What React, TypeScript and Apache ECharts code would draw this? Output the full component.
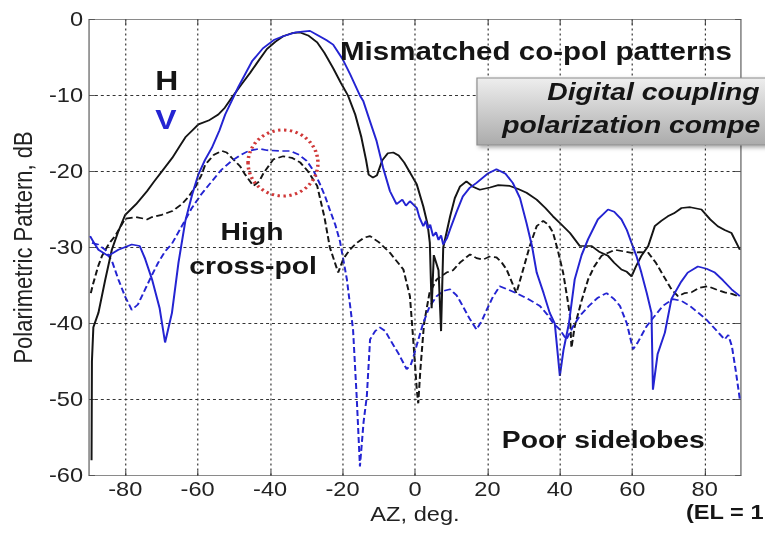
import React, { useEffect, useRef } from "react";
import * as echarts from "echarts";

// Azimuth tick labels (deg) and dB range
const azTicks = [-80, -60, -40, -20, 0, 20, 40, 60, 80];

// H co-pol (black solid) [AZ deg, dB]
const hCoPol: [number, number][] = [
  [-89.3, -58], [-89.2, -45], [-88.8, -40.5], [-87.4, -38.6], [-85.5, -34.2], [-83.7, -30.3],
  [-82, -28], [-80, -25.7], [-77, -24.3], [-74, -22.6], [-72, -21.3], [-69.9, -20], [-67, -18.2],
  [-65, -16.7], [-63.4, -15.5], [-61.5, -14.6], [-59.8, -13.8], [-57, -13.3], [-54.3, -12.5],
  [-52.5, -11.6], [-50.6, -10.3], [-48, -8.6], [-45.5, -7], [-43, -5.3], [-40.9, -3.9],
  [-38.5, -2.9], [-36.4, -2.2], [-34, -1.8], [-31.7, -1.7], [-29.5, -2.1], [-27, -3],
  [-25, -4.4], [-22.6, -6.4], [-20.5, -8.3], [-18.5, -10], [-16.5, -12.5], [-14.8, -15.5],
  [-13.5, -18.5], [-12.8, -20.4], [-11.6, -20.8], [-10.5, -20.5], [-9, -18.5], [-7.5, -17.6],
  [-6, -17.5], [-4.5, -17.9], [-3, -18.8], [-1.4, -20.1], [0.5, -21.7], [2.3, -24.6],
  [3.5, -27], [4.1, -29.4], [4.6, -38], [5.2, -31], [6.5, -33], [7.2, -41], [7.8, -30],
  [9.7, -25.9], [11, -23.5], [12.4, -22], [14.2, -21.3], [16, -22], [17.9, -22.4], [20.7, -22.1],
  [23, -21.8], [26.2, -21.9], [28.5, -22.3], [30.8, -22.8], [33.6, -23.7], [36, -24.8],
  [38.1, -25.9], [40.5, -27], [42.8, -28.1], [45.5, -29.8], [48.7, -29.8], [51, -30.6],
  [53.3, -31.1], [55, -32], [57, -32.9], [58.5, -33.2], [59.8, -33.8], [61, -32.5], [62.5, -31.1],
  [64.4, -29.8], [66.2, -27.2], [68, -26.5], [69.8, -25.9], [71.5, -25.5], [73.6, -24.8],
  [76, -24.7], [79.1, -25], [81.5, -26.3], [83.6, -27.2], [85.5, -27.7], [87.4, -28.1], [89.7, -30.3],
];

// V co-pol (blue solid)
const vCoPol: [number, number][] = [
  [-89.7, -28.5], [-88.5, -29.5], [-87.4, -30.3], [-84.7, -31.1], [-81.9, -30.3], [-78.2, -29.6],
  [-76, -29.8], [-74.5, -31.5], [-72.6, -34.2], [-70.5, -38], [-69, -42.5], [-67.1, -38.6],
  [-65.3, -32], [-63.4, -26.5], [-61.5, -23], [-59.8, -20.4], [-58, -18.5], [-56.1, -16.9],
  [-54, -14.6], [-52.4, -12.5], [-48.8, -8.9], [-45, -5.5], [-42, -3.8], [-39, -2.7],
  [-36.4, -2.2], [-33, -1.7], [-29, -1.5], [-27.1, -2], [-24.5, -2.7], [-22.6, -3.3],
  [-20, -5.2], [-17.9, -7.2], [-15.2, -10], [-14.3, -10.7], [-12.5, -13.3], [-10.6, -16],
  [-8.8, -19.5], [-6.9, -22.6], [-5.1, -24.3], [-3.5, -23.7], [-2.5, -24.5], [-1.4, -23.9],
  [0.5, -24.8], [1.2, -26], [2.3, -27.2], [3, -26.5], [3.5, -27.5], [4.2, -27], [5, -28.5],
  [5.8, -28], [6.5, -29], [7.2, -28.4], [7.8, -29.6], [8.8, -28.8], [9.7, -27.6],
  [11.5, -25.3], [13.2, -23.3], [15, -22.2], [17, -21.5], [20, -20.3], [22.5, -19.7],
  [25, -20.3], [27, -21.5], [29, -23.5], [30.8, -26.8], [32.3, -29.8], [33.6, -33.3],
  [35.5, -36], [37.2, -38.6], [38.6, -40], [40, -46.9], [41, -43.5], [42.5, -40], [44.1, -34.2],
  [46, -31], [47.8, -28.9], [50.5, -26.3], [53.3, -25], [55, -25.3], [57, -26.3], [58.5, -27.7],
  [59.8, -29.4], [61.2, -31.2], [62.5, -33.3], [64, -36], [65.3, -38.6], [65.7, -48.7],
  [67, -44], [69, -41.2], [70.8, -36.8], [71.7, -36], [73.5, -34.5], [75.3, -33.3],
  [78.1, -32.5], [80.5, -32.8], [82.8, -33.3], [85, -34.3], [87.4, -35.5], [89.7, -36.4],
];

// H cross-pol (black dashed)
const hCrossPol: [number, number][] = [
  [-89.5, -36], [-89, -35], [-87.5, -32.5], [-86.4, -31.1], [-84.5, -29.5], [-82.8, -28.5],
  [-80, -26.2], [-77, -26], [-74, -26.3], [-72.6, -26], [-69.9, -25.7], [-67, -25.2],
  [-64.4, -24.3], [-62.5, -23.3], [-60.7, -22.1], [-59, -20.5], [-57.9, -19.1], [-55.5, -17.8],
  [-53.3, -17.3], [-52, -17.5], [-50.6, -18.2], [-48.3, -19.3], [-46.9, -20.4], [-44.6, -21.9],
  [-43, -21.3], [-41.8, -20.2], [-39.1, -18.4], [-36.4, -18], [-34, -18.2], [-31.7, -18.8],
  [-29.5, -20], [-27, -21.9], [-25, -26], [-23.5, -30], [-21.2, -33.3], [-19.8, -31.5],
  [-18, -30.3], [-16.1, -29.4], [-14, -28.7], [-12.4, -28.5], [-10, -29.3], [-6.9, -30.7],
  [-3.2, -32.9], [-1.4, -36.4], [-0.5, -42], [0.5, -48.7], [0.9, -50.5], [1.5, -46],
  [2.5, -40], [4, -36], [6, -34.2], [8.7, -33.3], [10.5, -33], [12.4, -32], [15.2, -30.9],
  [17, -31.4], [18.8, -31.6], [20.5, -31.2], [22.5, -31.3], [24, -32], [25.3, -32.9],
  [26.7, -34.5], [28, -36], [29.5, -33.5], [31.7, -29.8], [33.6, -27.2], [35.4, -26.5],
  [36.8, -27], [38.1, -28], [39.5, -30.5], [40.9, -33.3], [42, -36.5], [42.8, -39], [43.2, -43.2],
  [44.1, -40.4], [46, -37], [47.8, -34.2], [49.5, -32.5], [51.5, -31.1], [55.2, -30.3],
  [57.5, -30.5], [59.8, -30.7], [62, -30.6], [64.4, -30.7], [66.5, -32], [68.1, -33.3],
  [70.8, -35.5], [72.6, -36.4], [74.5, -36], [76.3, -35.9], [78.5, -35.3], [80.8, -35.1],
  [83, -35.5], [85.5, -35.9], [87.5, -36.1], [89.1, -36.4],
];

// V cross-pol (blue dashed)
const vCrossPol: [number, number][] = [
  [-89.2, -29.4], [-87.5, -29.6], [-85.5, -30.3], [-83.5, -32], [-81.9, -34.2], [-80, -36.5],
  [-78.2, -38.2], [-76.5, -37.5], [-74.5, -35.5], [-72.5, -33.5], [-70.9, -32], [-69, -30.5],
  [-67.1, -29.5], [-64.5, -27.3], [-61.6, -24.8], [-59, -23], [-56.1, -21.3], [-53.5, -19.8],
  [-50.6, -18.6], [-48, -17.8], [-46, -17.3], [-43, -17], [-40.9, -17.2], [-37.5, -17.3],
  [-34.5, -17.3], [-32, -17.8], [-29.9, -18.6], [-28, -19.9], [-26.2, -21.7], [-24.8, -23.3],
  [-23.4, -25.2], [-22, -27], [-20.7, -29.2], [-18.8, -34.2], [-17.1, -40.8], [-16.1, -49.6],
  [-15.2, -58.8], [-14.2, -53], [-13.3, -49.6], [-12.4, -42.1], [-11, -41], [-9.7, -40.5],
  [-8.2, -41], [-6.9, -42.1], [-4.5, -44], [-2.3, -46], [-1.2, -45.5], [-0.5, -44.5], [1, -42],
  [2.3, -39.9], [4, -37.8], [6, -36.4], [8, -35.7], [9.7, -35.5], [11.5, -36.3], [13.2, -37.7],
  [15, -39.3], [17, -40.8], [18.5, -39.6], [19.8, -38.2], [21.5, -36.5], [23.4, -35.1],
  [25.5, -35.5], [28, -36], [31, -36.7], [34.5, -37.7], [36.5, -38.8], [38.1, -39.9],
  [40, -40.8], [41.8, -42.1], [43.5, -40.5], [45.5, -39], [48, -37.7], [50.5, -36.6],
  [52.9, -36], [55, -36.8], [56.6, -37.7], [58.5, -40], [60.2, -43.4], [61.5, -42.5],
  [63.9, -40.4], [66.2, -39], [68.4, -37.7], [71.2, -36.8], [73.5, -37], [75.9, -37.7],
  [78, -38.5], [80.5, -39.5], [83, -40.8], [85.5, -42.1], [86.5, -41.5], [87.5, -43],
  [88.5, -46], [89.7, -50],
];

const FONT = "'Liberation Sans', Arial, Helvetica, sans-serif";
const BLACK = "#151515";
const BLUE = "#2424d2";

export default function App() {
  const ref = useRef<HTMLDivElement>(null);

  useEffect(() => {
    if (!ref.current) return;
    const chart = echarts.init(ref.current, null, { renderer: "svg" });
    const tickStyle = { color: "#555", width: 1 };
    const axisLineStyle = { color: "#8a8a8a", width: 1 };
    const text = (t: string, x: number, y: number, size: number, opts: any = {}) => ({
      type: "text",
      x,
      y,
      z: 100,
      style: {
        text: t,
        fill: opts.fill || BLACK,
        fontSize: size,
        fontWeight: "bold",
        fontStyle: opts.italic ? "italic" : "normal",
        fontFamily: FONT,
        align: opts.align || "left",
        verticalAlign: "middle",
      },
    });

    chart.setOption({
      animation: false,
      backgroundColor: "#ffffff",
      textStyle: { fontFamily: FONT },
      grid: {
        left: 75.4,
        right: 20.4,
        top: 19.5,
        bottom: 65.5,
        show: true,
        borderColor: "#8a8a8a",
        borderWidth: 1,
        backgroundColor: "#ffffff",
      },
      xAxis: [
        {
          type: "value",
          min: -90,
          max: 90,
          position: "bottom",
          name: "AZ, deg.",
          nameLocation: "middle",
          nameGap: 25,
          nameTextStyle: { fontSize: 20, color: "#222", fontFamily: FONT },
          axisLine: { show: true, onZero: false, lineStyle: axisLineStyle },
          axisTick: { show: true, inside: true, length: 5, customValues: azTicks, lineStyle: tickStyle },
          axisLabel: { customValues: azTicks, fontSize: 20, color: "#222", margin: 4, fontFamily: FONT },
          splitLine: { show: false },
        },
        {
          type: "value",
          min: -90,
          max: 90,
          position: "top",
          axisLine: { show: true, onZero: false, lineStyle: axisLineStyle },
          axisTick: { show: true, inside: true, length: 5, customValues: azTicks, lineStyle: tickStyle },
          axisLabel: { show: false },
          splitLine: { show: false },
        },
      ],
      yAxis: [
        {
          type: "value",
          min: -60,
          max: 0,
          interval: 10,
          position: "left",
          name: "Polarimetric Pattern, dB",
          nameLocation: "middle",
          nameRotate: 90,
          nameGap: 41,
          nameTextStyle: { fontSize: 22, color: "#222", fontFamily: FONT },
          axisLine: { show: true, onZero: false, lineStyle: axisLineStyle },
          axisTick: { show: true, inside: true, length: 5, lineStyle: tickStyle },
          axisLabel: { fontSize: 20, color: "#222", margin: 5, fontFamily: FONT },
          splitLine: { show: true, lineStyle: { color: "#333", width: 1, type: [2.5, 2.5] } },
        },
        {
          type: "value",
          min: -60,
          max: 0,
          interval: 10,
          position: "right",
          axisLine: { show: true, onZero: false, lineStyle: axisLineStyle },
          axisTick: { show: true, inside: true, length: 5, lineStyle: tickStyle },
          axisLabel: { show: false },
          splitLine: { show: false },
        },
      ],
      series: [
        {
          type: "line",
          name: "grid",
          data: [],
          silent: true,
          z: 1,
          markLine: {
            silent: true,
            symbol: ["none", "none"],
            label: { show: false },
            emphasis: { disabled: true },
            lineStyle: { color: "#333", width: 1, type: [2, 3] },
            data: azTicks.map((v) => ({ xAxis: v })),
          },
        },
        {
          type: "line",
          name: "H cross-pol",
          data: hCrossPol,
          showSymbol: false,
          symbol: "none",
          z: 3,
          lineStyle: { color: BLACK, width: 1.7, type: [6, 3] },
        },
        {
          type: "line",
          name: "V cross-pol",
          data: vCrossPol,
          showSymbol: false,
          symbol: "none",
          z: 3,
          lineStyle: { color: BLUE, width: 1.7, type: [6, 3] },
        },
        {
          type: "line",
          name: "H co-pol",
          data: hCoPol,
          showSymbol: false,
          symbol: "none",
          z: 4,
          lineStyle: { color: BLACK, width: 1.7 },
        },
        {
          type: "line",
          name: "V co-pol",
          data: vCoPol,
          showSymbol: false,
          symbol: "none",
          z: 4,
          lineStyle: { color: BLUE, width: 1.7 },
        },
      ],
      graphic: [
        {
          type: "ellipse",
          z: 90,
          shape: { cx: 239.7, cy: 163, rx: 29.6, ry: 33 },
          style: { fill: "none", stroke: "#d03838", lineWidth: 3, lineDash: [2, 3] },
        },
        {
          type: "rect",
          z: 95,
          shape: { x: 404, y: 78, width: 260, height: 67 },
          style: {
            fill: new echarts.graphic.LinearGradient(0, 0, 0, 1, [
              { offset: 0, color: "#eeeeee" },
              { offset: 1, color: "#ababab" },
            ]),
            stroke: "#8c8c8c",
            lineWidth: 1,
            shadowBlur: 4,
            shadowOffsetX: 2,
            shadowOffsetY: 2,
            shadowColor: "rgba(0,0,0,0.35)",
          },
        },
        text("H", 131.5, 80, 27),
        text("V", 131.5, 119, 27, { fill: BLUE }),
        text("Mismatched co-pol patterns", 288, 51, 25),
        text("High", 213.5, 232, 24, { align: "center" }),
        text("cross-pol", 214.4, 266, 24, { align: "center" }),
        text("Poor sidelobes", 425, 440, 24),
        text("Digital coupling", 463.5, 92, 24, { italic: true }),
        text("polarization compe", 425.4, 125, 24, { italic: true }),
        text("(EL = 1", 581, 512, 20),
      ],
    });

    return () => chart.dispose();
  }, []);

  return (
    <div
      ref={ref}
      style={{
        position: "absolute",
        left: 0,
        top: 0,
        width: 648,
        height: 541,
        transform: "scaleX(1.1806)",
        transformOrigin: "0 0",
      }}
    />
  );
}
